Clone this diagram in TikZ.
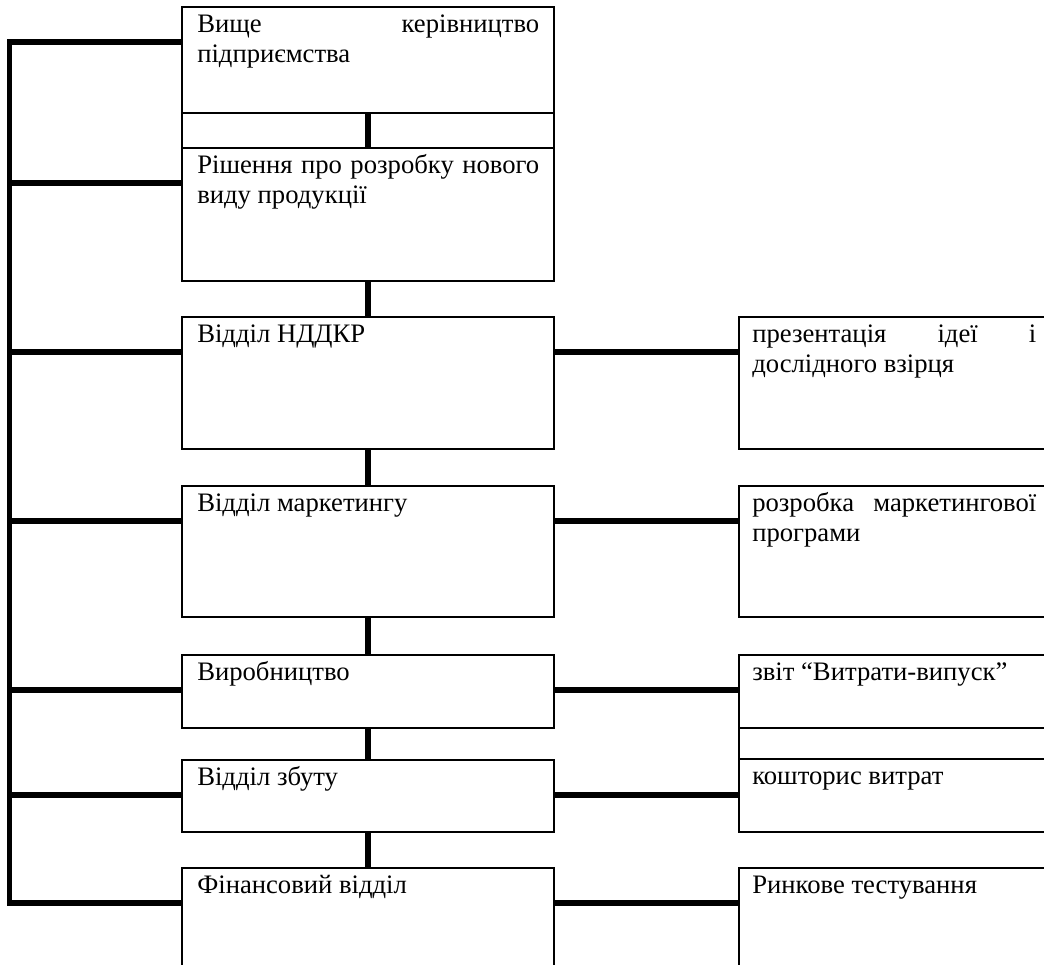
\documentclass[tikz,border=0pt]{standalone}
\usepackage{fontspec}
\setmainfont{Liberation Serif}
\usetikzlibrary{calc}
\newcommand{\frm}[5]{\node[frame, minimum width={(#4-#2)*0.75pt}, minimum height={(#5-#3)*0.75pt}] (#1) at (#2,#3) {};}
\begin{document}
\begin{tikzpicture}[x=0.75pt,y=-0.75pt,
  frame/.style={draw, line width=1.5pt, inner sep=0pt, outer sep=0pt, anchor=north west},
  lbl/.style={anchor=base west, inner sep=0pt, align=justify,
    font={\fontsize{20}{22.5}\selectfont\hyphenpenalty=10000\exhyphenpenalty=10000\tolerance=10000}},
  ctext/.style={lbl, text width=256.5pt},
  rtext/.style={lbl, text width=213pt},
  link/.style={line width=4.2pt},
  busline/.style={line width=4.2pt, line join=miter},
]
\clip (0,0) rectangle (1044,964);
% central column
\frm{b1}{182}{7}{554}{113}
\frm{s1}{182}{113}{554}{148}
\frm{b2}{182}{148}{554}{281}
\frm{b3}{182}{317}{554}{449}
\frm{b4}{182}{486}{554}{617}
\frm{b5}{182}{655}{554}{728}
\frm{b6}{182}{760}{554}{832}
\frm{b7}{182}{868}{554}{1000}
% right column
\frm{r1}{739}{317}{1052}{449}
\frm{r2}{739}{486}{1052}{617}
\frm{r3}{739}{655}{1052}{728}
\frm{s2}{739}{728}{1052}{759}
\frm{r4}{739}{759}{1052}{832}
\frm{r5}{739}{868}{1052}{1000}
\draw[line width=2.2pt] (s2.north west) -- (s2.south west);
% texts
\node[ctext] (t1) at ($(b1.north west)+(15,25)$) {Вище керівництво підприємства};
\node[ctext] (t2) at ($(b2.north west)+(15,25)$) {Рішення про розробку нового виду продукції};
\node[ctext] (t3) at ($(b3.north west)+(15,25)$) {Відділ НДДКР};
\node[ctext] (t4) at ($(b4.north west)+(15,25)$) {Відділ маркетингу};
\node[ctext] (t5) at ($(b5.north west)+(15,25)$) {Виробництво};
\node[ctext] (t6) at ($(b6.north west)+(15,25)$) {Відділ збуту};
\node[ctext] (t7) at ($(b7.north west)+(15,25)$) {Фінансовий відділ};
\node[rtext] (u1) at ($(r1.north west)+(13,25)$) {презентація ідеї і дослідного взірця};
\node[rtext] (u2) at ($(r2.north west)+(13,25)$) {розробка маркетингової програми};
\node[rtext] (u3) at ($(r3.north west)+(13,25)$) {звіт “Витрати-випуск”};
\node[rtext] (u4) at ($(r4.north west)+(13,25)$) {кошторис витрат};
\node[rtext] (u5) at ($(r5.north west)+(13,25)$) {Ринкове тестування};
% attachment points
\foreach \b in {b1,b2,b3,b4,b5,b6,b7}{
  \coordinate (\b w) at ($(\b.north west)+(0,35)$);
  \coordinate (\b e) at ($(\b.north east)+(0,35)$);
}
\coordinate (bus) at (9.5,0);
% left bus
\draw[busline] (b1w) -- (b1w -| bus) -- (b7w -| bus) -- (b7w);
\foreach \b in {b2,b3,b4,b5,b6}{
  \draw[link] (\b w -| bus) -- (\b w);
}
% central vertical links
\draw[link] (b1.south) -- (b2.north);
\draw[link] (b2.south) -- (b3.north);
\draw[link] (b3.south) -- (b4.north);
\draw[link] (b4.south) -- (b5.north);
\draw[link] (b5.south) -- (b6.north);
\draw[link] (b6.south) -- (b7.north);
% right links
\draw[link] (b3e) -- (b3e -| r1.west);
\draw[link] (b4e) -- (b4e -| r2.west);
\draw[link] (b5e) -- (b5e -| r3.west);
\draw[link] (b6e) -- (b6e -| r4.west);
\draw[link] (b7e) -- (b7e -| r5.west);
\end{tikzpicture}
\end{document}
